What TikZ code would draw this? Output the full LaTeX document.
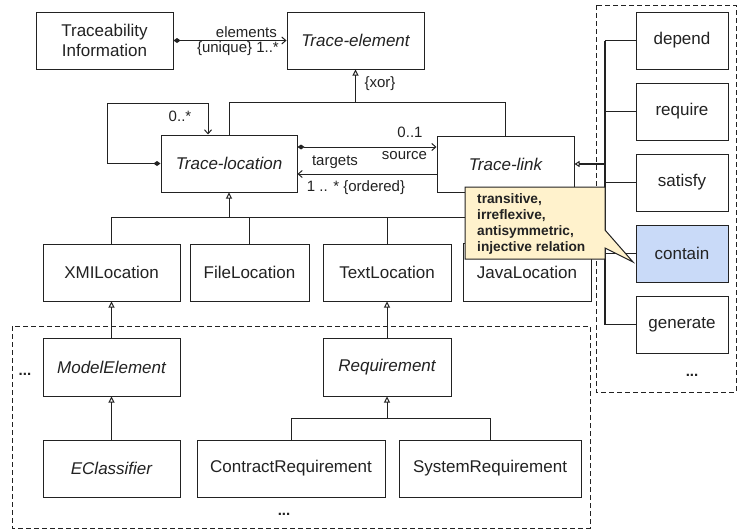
\documentclass[tikz,border=0pt]{standalone}
\usepackage{fontspec}
\setmainfont{Liberation Sans}
\usetikzlibrary{arrows.meta}
\definecolor{ink}{HTML}{222222}
\definecolor{notefill}{HTML}{FFF2CC}
\definecolor{relblue}{HTML}{C9DAF8}
\begin{document}
\begin{tikzpicture}[x=1pt,y=-1pt,
  every node/.style={text=ink},
  cls/.style={draw=ink, line width=1pt, fill=white, minimum height=57pt,
    inner sep=0pt, align=center, font=\fontsize{17}{20}\selectfont},
  abs/.style={cls, font=\fontsize{17}{20}\selectfont\itshape},
  lbl/.style={font=\fontsize{15}{17}\selectfont, inner sep=0pt},
  dots/.style={font=\fontsize{15}{17}\selectfont\bfseries, inner sep=0pt, anchor=base},
  wire/.style={draw=ink, line width=1pt},
  gen/.style={wire, -{Triangle[open, length=6pt, width=6pt]}},
  nav/.style={wire, -{Straight Barb[length=4pt, width=7pt]}},
  comp/.style={wire, {Diamond[length=7pt, width=5pt]}-{Straight Barb[length=4pt, width=7pt]}},
  trunk/.style={draw=ink, line width=2pt},
  frame/.style={draw=ink, line width=1pt, dash pattern=on 5pt off 3pt},
]
\useasboundingbox (0,0) rectangle (737,530);

% dashed package frames
\draw[frame] (596,5) rectangle (736,392);
\draw[frame] (12,326) rectangle (590,528);

% core classes
\node[cls, minimum width=137pt] (ti) at (104.5,40.5) {Traceability\\Information};
\node[abs, minimum width=137pt] (te) at (355.5,40.5) {Trace-element};
\node[abs, minimum width=136pt] (tl) at (229,163.5) {Trace-location};
\node[abs, minimum width=137pt, minimum height=56pt] (tk) at (505.5,164) {Trace-link};

% location kinds
\node[cls, minimum width=137pt] (xmi) at (111.5,272.5) {XMILocation};
\node[cls, minimum width=119pt] (file) at (249.5,272.5) {FileLocation};
\node[cls, minimum width=128pt] (text) at (387,272.5) {TextLocation};
\node[cls, minimum width=128pt, minimum height=58pt] (java) at (527,272) {JavaLocation};

% model and requirement classes
\node[abs, minimum width=137pt, minimum height=58pt] (me) at (111.5,367) {ModelElement};
\node[abs, minimum width=128pt, minimum height=58pt] (req) at (387,367) {Requirement};
\node[abs, minimum width=137pt] (ec) at (111.5,468.5) {EClassifier};
\node[cls, minimum width=188pt] (cr) at (291,468.5) {ContractRequirement};
\node[cls, minimum width=182pt] (sr) at (490,468.5) {SystemRequirement};

% link kinds
\node[cls, minimum width=92pt] (rDep) at (682,40.5) {depend};
\node[cls, minimum width=92pt] (rReq) at (682,111.5) {require};
\node[cls, minimum width=92pt] (rSat) at (682,182.5) {satisfy};
\node[cls, minimum width=92pt, fill=relblue] (rCon) at (682,253.5) {contain};
\node[cls, minimum width=92pt] (rGen) at (682,324.5) {generate};

% ellipses
\node[dots] (d1) at (25,375) {...};
\node[dots] (d2) at (284,515) {...};
\node[dots] (d3) at (692,376) {...};

% Traceability Information owns the elements
\draw[comp] (ti.east) -- (te.west);
\node[lbl, anchor=east] (lElem) at (277,32) {elements};
\node[lbl, anchor=east] (lUniq) at (279,49) {\{unique\} 1..*};

% xor generalisation to Trace-element
\coordinate (xr) at (505.5,102);
\coordinate (xm) at (355.5,102);
\draw[wire] (tl.north) |- (xr) -- (tk.north);
\draw[gen] (xm) -- (te.south);
\node[lbl] (lXor) at (380,84) {\{xor\}};

% self association of Trace-location
\coordinate (lp1) at (107,163.5);
\coordinate (lp2) at (208,103);
\draw[comp] (tl.west) -- (lp1) |- (lp2) -- (lp2 |- tl.north);
\node[lbl] (lLoop) at (180,116) {0..*};

% source / targets associations
\coordinate (ua) at (0,147);
\coordinate (ub) at (0,174);
\draw[comp] (tl.east |- ua) -- (tk.west |- ua);
\draw[nav] (tk.west |- ub) -- (tl.east |- ub);
\node[lbl] (lSrcM) at (410,132) {0..1};
\node[lbl] (lSrc) at (404.5,156) {source};
\node[lbl] (lTgt) at (335,162) {targets};
\node[lbl] (lTgtM) at (356,188) {1 .. * \{ordered\}};

% location generalisation tree
\coordinate (gy) at (0,217);
\draw[gen] (tl.south |- gy) -- (tl.south);
\draw[wire] (xmi.north |- gy) -- (java.north |- gy);
\foreach \n in {xmi,file,text,java} \draw[wire] (\n.north |- gy) -- (\n.north);

% model / requirement hierarchies
\draw[gen] (me.north) -- (xmi.south);
\draw[gen] (ec.north) -- (me.south);
\draw[gen] (req.north) -- (text.south);
\coordinate (ry) at (0,418);
\draw[gen] (req.south |- ry) -- (req.south);
\draw[wire] (cr.north |- ry) -- (sr.north |- ry);
\draw[wire] (cr.north |- ry) -- (cr.north);
\draw[wire] (sr.north |- ry) -- (sr.north);

% link kinds specialise Trace-link
\coordinate (tr) at (605,0);
\draw[trunk] (rDep.west -| tr) -- (rGen.west -| tr);
\foreach \n in {rDep,rReq,rSat,rCon,rGen} \draw[wire] (\n.west -| tr) -- (\n.west);
\draw[trunk, -{Triangle[open, length=5pt, width=6pt, line width=1pt]}] (tk.east -| tr) -- (tk.east);

% constraint note on contain
\draw[draw=ink, fill=notefill, line width=1pt] (465,187) -- (605,187) -- (605,230)
  -- (633,262) -- (605,248) -- (605,259) -- (465,259) -- cycle;
\node[anchor=north west, inner sep=0pt, align=left,
  font=\fontsize{13.7}{16}\selectfont\bfseries] (note) at (477,193)
  {transitive,\\irreflexive,\\antisymmetric,\\injective relation};
\end{tikzpicture}
\end{document}
